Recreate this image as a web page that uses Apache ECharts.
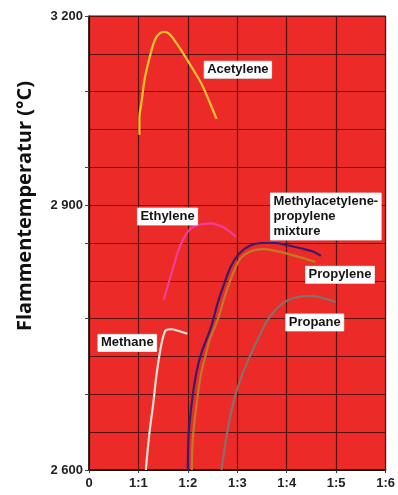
<!DOCTYPE html>
<html>
<head>
<meta charset="utf-8">
<script src="https://cdn.jsdelivr.net/npm/echarts@6/dist/echarts.min.js"></script>
<style>
  html, body { margin: 0; padding: 0; background: #ffffff; }
  #chart { width: 398px; height: 495px; }
</style>
</head>
<body>
<div id="chart"></div>
<script>
// ---- data (x = oxygen:fuel ratio as number, y = flame temperature) ----
const xTickLabels = ['0', '1:1', '1:2', '1:3', '1:4', '1:5', '1:6'];
const yTickValues = [2600, 2950, 3200];
const yTickLabels = ['2 600', '2 900', '3 200'];
const yMinorTicks = [2600, 2700, 2800, 2900, 2950, 3000, 3100, 3200];

const seriesNames = ['Acetylene', 'Ethylene', 'Methane', 'Methylacetylene-\npropylene\nmixture', 'Propylene', 'Propane'];

const acetylene = [[1.02,3043],[1.02,3066],[1.06,3085],[1.13,3118],[1.23,3146],[1.33,3168],[1.43,3177],[1.53,3179],[1.63,3176],[1.77,3164],[1.93,3148],[2.09,3131],[2.27,3111],[2.44,3086],[2.58,3064]];
const ethylene = [[1.51,2825],[1.60,2845],[1.70,2867],[1.80,2889],[1.90,2904],[2.00,2915],[2.13,2922],[2.30,2925],[2.47,2926],[2.64,2923],[2.81,2917],[2.97,2908]];
const methane = [[1.15,2600],[1.18,2622],[1.23,2653],[1.30,2688],[1.36,2723],[1.43,2754],[1.50,2776],[1.56,2785],[1.67,2786],[1.80,2784],[1.99,2780]];
const mapMixture = [[2.00,2600],[2.01,2640],[2.07,2684],[2.17,2728],[2.27,2754],[2.47,2789],[2.60,2820],[2.74,2847],[2.87,2869],[3.04,2886],[3.24,2896],[3.48,2900],[3.75,2900],[4.01,2897],[4.28,2893],[4.52,2889],[4.69,2883]];
const propylene = [[2.08,2600],[2.10,2640],[2.17,2684],[2.27,2728],[2.37,2754],[2.44,2772],[2.60,2798],[2.77,2834],[2.94,2864],[3.07,2880],[3.28,2889],[3.51,2892],[3.75,2890],[4.01,2886],[4.28,2881],[4.58,2875]];
const propane = [[2.68,2600],[2.77,2640],[2.87,2675],[2.97,2701],[3.11,2728],[3.28,2754],[3.44,2776],[3.61,2798],[3.81,2814],[4.01,2824],[4.25,2829],[4.52,2830],[4.75,2827],[4.99,2822]];

// label anchor points (data coordinates, left edge / vertical centre of each tag)
const labelAnchors = [[2.33,3129],[0.98,2935],[0.18,2768],[3.67,2935],[4.38,2858],[3.98,2795]];

const seriesData = [acetylene, ethylene, methane, mapMixture, propylene, propane];
const seriesColors = ['#f7c22e', '#ee3f98', '#eee2d6', '#3a1c6c', '#c07a26', '#86706a'];

const chart = echarts.init(document.getElementById('chart'), null, { renderer: 'canvas' });

const series = seriesData.map((d, i) => ({
  name: seriesNames[i],
  type: 'line',
  data: d,
  smooth: 0.35,
  symbol: 'none',
  clip: true,
  lineStyle: { color: seriesColors[i], width: 2.2 },
  z: 3,
  markPoint: {
    symbol: 'rect',
    symbolSize: 0,
    silent: true,
    data: [{ coord: labelAnchors[i] }],
    label: {
      show: true,
      position: 'right',
      distance: 0,
      formatter: seriesNames[i],
      backgroundColor: '#ffffff',
      borderColor: '#d8d8d8',
      borderWidth: 0.5,
      padding: [1, 3, 1, 3],
      color: '#141414',
      fontFamily: 'Liberation Sans, Arial, sans-serif',
      fontWeight: 'bold',
      fontSize: 13,
      lineHeight: 15,
      align: 'left'
    }
  }
}));

chart.setOption({
  animation: false,
  backgroundColor: '#ffffff',
  grid: {
    left: 89, right: 11, top: 16, bottom: 25,
    show: true,
    backgroundColor: '#ec2b28',
    borderColor: '#1a1a1a',
    borderWidth: 1
  },
  xAxis: {
    type: 'value',
    min: 0, max: 6, interval: 1,
    axisLine: { show: true, lineStyle: { color: '#111', width: 1.5 } },
    axisTick: { show: true, length: 3, lineStyle: { color: '#333' } },
    axisLabel: {
      formatter: v => xTickLabels[Math.round(v)],
      fontFamily: 'Liberation Sans, Arial, sans-serif',
      fontWeight: 'bold', fontSize: 13, color: '#222', margin: 7
    },
    splitLine: { show: true, lineStyle: { color: '#5a0f0f', width: 1.2 } }
  },
  yAxis: [{
    type: 'value',
    min: 2600, max: 3200, interval: 50,
    axisLine: { show: true, lineStyle: { color: '#111', width: 1.5 } },
    axisTick: { show: false },
    axisLabel: {
      customValues: yTickValues,
      formatter: v => yTickLabels[yTickValues.indexOf(v)],
      fontFamily: 'Liberation Sans, Arial, sans-serif',
      fontWeight: 'bold', fontSize: 13, color: '#222', margin: 6
    },
    splitLine: { show: true, lineStyle: { color: '#5a0f0f', width: 1.2 } }
  }, {
    type: 'value',
    position: 'left',
    min: 2600, max: 3200, interval: 50,
    axisLine: { show: false },
    axisTick: { show: true, length: 4, customValues: yMinorTicks, lineStyle: { color: '#444' } },
    axisLabel: { show: false },
    splitLine: { show: false }
  }],
  graphic: [{
    type: 'text',
    x: 25, y: 206,
    rotation: Math.PI / 2,
    style: {
      text: 'Flammentemperatur (°C)',
      fontFamily: 'Open Sans, sans-serif',
      fontWeight: 'bold',
      fontSize: 20,
      fill: '#111',
      textAlign: 'center',
      textVerticalAlign: 'middle'
    }
  }],
  series: series
});
</script>
</body>
</html>
